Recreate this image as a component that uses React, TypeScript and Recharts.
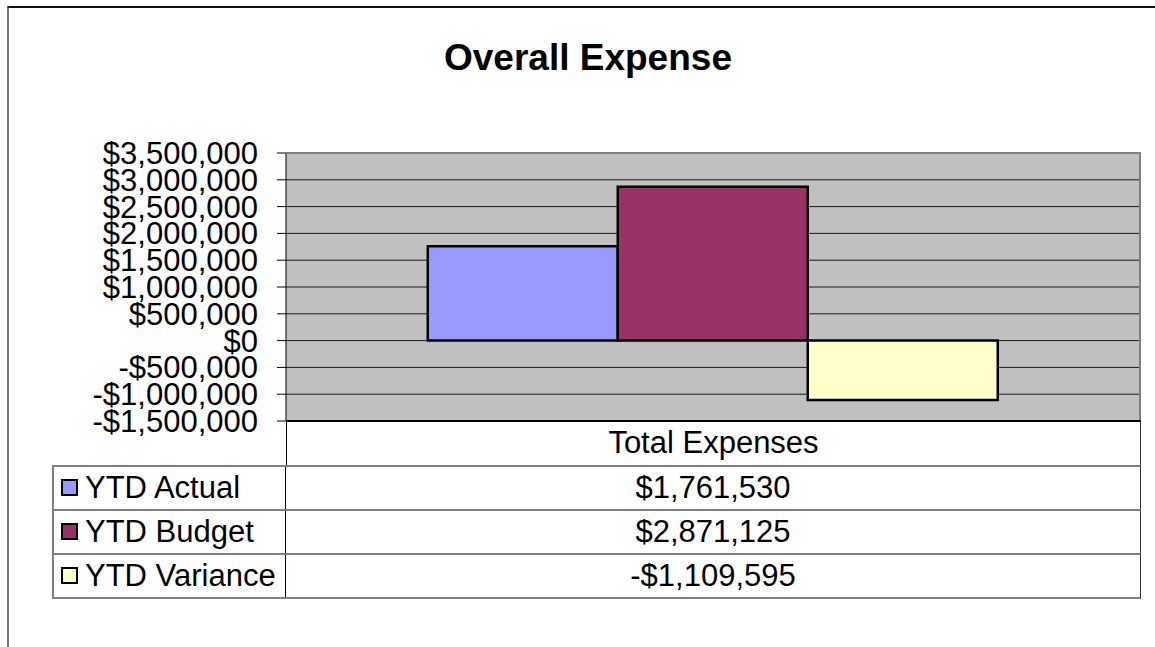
import { Bar, BarChart, CartesianGrid, XAxis, YAxis } from "recharts";

const categories = ["Total Expenses"];
const seriesNames = ["YTD Actual", "YTD Budget", "YTD Variance"];
const ytdActual = [1761530];
const ytdBudget = [2871125];
const ytdVariance = [-1109595];
const yTicks = [
  -1500000, -1000000, -500000, 0, 500000, 1000000, 1500000, 2000000, 2500000,
  3000000, 3500000,
];
const seriesColors = ["#9999FF", "#993366", "#FFFFCC"];

const seriesKeys = ["actual", "budget", "variance"];
const seriesValues = [ytdActual, ytdBudget, ytdVariance];

const data = categories.map((name, i) => ({
  name,
  actual: ytdActual[i],
  budget: ytdBudget[i],
  variance: ytdVariance[i],
}));

const usd0 = new Intl.NumberFormat("en-US", {
  style: "currency",
  currency: "USD",
  maximumFractionDigits: 0,
});

const FONT = '"Liberation Sans", Arial, sans-serif';
const PLOT = { left: 286, top: 153, right: 1140, bottom: 421 };
const ROW_H = 44;
const TABLE_LEFT = 52;
const TEXT_SIZE = 31;

export default function App() {
  return (
    <div
      style={{
        position: "absolute",
        left: 0,
        top: 0,
        width: 1155,
        height: 647,
        background: "#fff",
        fontFamily: FONT,
        color: "#000",
        overflow: "hidden",
      }}
    >
      {/* outer chart frame (only top/left visible in the crop) */}
      <div
        style={{
          position: "absolute",
          left: 7,
          top: 6,
          width: 1200,
          height: 700,
          borderTop: "2px solid #111",
          borderLeft: "2px solid #777",
        }}
      />

      <div
        style={{
          position: "absolute",
          left: 288,
          top: 39,
          width: 600,
          textAlign: "center",
          fontSize: 37,
          fontWeight: "bold",
          lineHeight: "37px",
        }}
      >
        Overall Expense
      </div>

      <div style={{ position: "absolute", left: 0, top: 0 }}>
        <BarChart
          width={1155}
          height={647}
          data={data}
          margin={{
            top: PLOT.top,
            right: 1155 - PLOT.right,
            bottom: 647 - PLOT.bottom,
            left: PLOT.left - 100,
          }}
          barGap={0}
          barCategoryGap="16.6%"
        >
          <CartesianGrid
            vertical={false}
            fill="#C0C0C0"
            fillOpacity={1}
            stroke="#1a1a1a"
            strokeWidth={1}
          />
          <XAxis dataKey="name" hide />
          <YAxis
            width={100}
            domain={[-1500000, 3500000]}
            ticks={yTicks}
            interval={0}
            tickFormatter={(v) => usd0.format(v as number)}
            tick={{ fontSize: TEXT_SIZE, fill: "#000", fontFamily: FONT }}
            tickSize={9}
            tickMargin={19}
            tickLine={{ stroke: "#000" }}
            axisLine={{ stroke: "#000" }}
          />
          {seriesKeys.map((k, i) => (
            <Bar
              key={k}
              dataKey={k}
              name={seriesNames[i]}
              fill={seriesColors[i]}
              stroke="#000"
              strokeWidth={2.5}
              isAnimationActive={false}
            />
          ))}
        </BarChart>
      </div>

      {/* plot area border, top and right */}
      <div
        style={{
          position: "absolute",
          left: PLOT.left,
          top: PLOT.top - 1,
          width: PLOT.right - PLOT.left + 1,
          height: PLOT.bottom - PLOT.top + 1,
          borderTop: "2px solid #808080",
          borderRight: "2px solid #808080",
          boxSizing: "border-box",
          pointerEvents: "none",
        }}
      />
      <div
        style={{
          position: "absolute",
          left: PLOT.left,
          top: PLOT.bottom - 1,
          width: PLOT.right - PLOT.left + 1,
          height: 2,
          background: "#000",
        }}
      />

      {/* data table */}
      <div
        style={{
          position: "absolute",
          left: PLOT.left,
          top: PLOT.bottom,
          width: PLOT.right - PLOT.left + 1,
          height: ROW_H + 1,
          borderLeft: "1px solid #000",
          borderRight: "1px solid #333",
          boxSizing: "border-box",
          textAlign: "center",
          fontSize: TEXT_SIZE,
          lineHeight: `${ROW_H}px`,
        }}
      >
        {categories[0]}
      </div>
      {seriesNames.map((name, i) => (
        <div
          key={name}
          style={{
            position: "absolute",
            left: TABLE_LEFT,
            top: PLOT.bottom + ROW_H * (i + 1),
            width: PLOT.right - TABLE_LEFT + 1,
            height: ROW_H + (i === seriesNames.length - 1 ? 2 : 0),
            borderTop: "2px solid #808080",
            borderLeft: "2px solid #808080",
            borderRight: "1px solid #333",
            borderBottom: i === seriesNames.length - 1 ? "2px solid #808080" : "none",
            boxSizing: "border-box",
            display: "flex",
            fontSize: TEXT_SIZE,
            lineHeight: `${ROW_H - 2}px`,
          }}
        >
          <div
            style={{
              width: PLOT.left - TABLE_LEFT - 2,
              borderRight: "1px solid #000",
              boxSizing: "border-box",
              position: "relative",
              whiteSpace: "nowrap",
            }}
          >
            <span
              style={{
                position: "absolute",
                left: 7,
                top: 12,
                width: 17,
                height: 17,
                boxSizing: "border-box",
                border: "2px solid #000",
                background: seriesColors[i],
              }}
            />
            <span style={{ position: "absolute", left: 31 }}>{name}</span>
          </div>
          <div style={{ flex: 1, textAlign: "center" }}>
            {usd0.format(seriesValues[i][0])}
          </div>
        </div>
      ))}
    </div>
  );
}
